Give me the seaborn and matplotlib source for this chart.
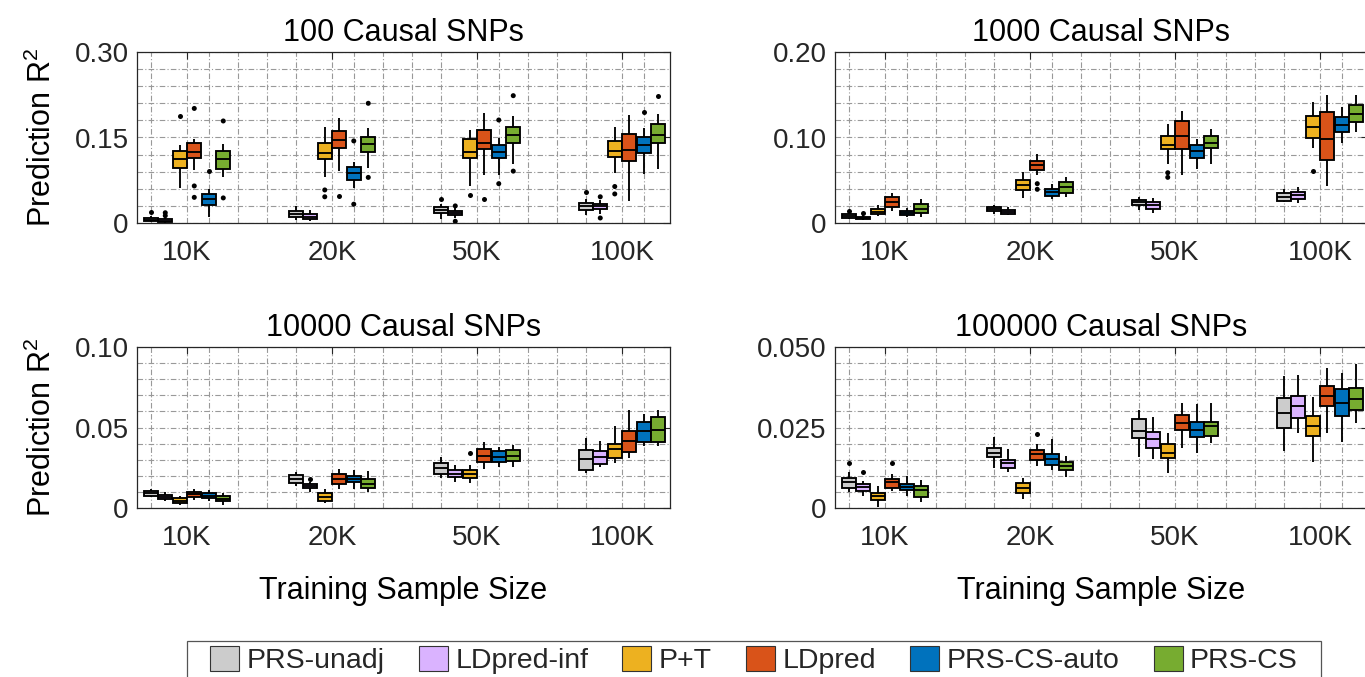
import numpy as np
import pandas as pd
import matplotlib
matplotlib.use("Agg")
import matplotlib.pyplot as plt
from matplotlib.patches import Patch, Rectangle
from matplotlib.ticker import FixedLocator, MultipleLocator
import seaborn as sns

sns.set_theme(style="white")
plt.rcParams["font.family"] = ["Liberation Sans", "DejaVu Sans"]
plt.rcParams["mathtext.default"] = "regular"

methods = ["PRS-unadj", "LDpred-inf", "P+T", "LDpred", "PRS-CS-auto", "PRS-CS"]
sizes = ["10K", "20K", "50K", "100K"]
colors = ["#CCCCCC", "#DAB3FF", "#EDB120", "#D95319", "#0072BD", "#77AC30"]
titles = ["100 Causal SNPs", "1000 Causal SNPs", "10000 Causal SNPs", "100000 Causal SNPs"]

# box statistics: (whisker low, Q1, median, Q3, whisker high); rows = methods, columns = sizes
snp100_boxes = [
    [(0.002, 0.0035, 0.006, 0.0093, 0.012), (0.005, 0.011, 0.0164, 0.021, 0.029), (0.007, 0.0175, 0.0228, 0.0286, 0.034), (0.014, 0.0228, 0.030, 0.0345, 0.042)],
    [(0.0005, 0.001, 0.004, 0.007, 0.009), (0.0035, 0.007, 0.011, 0.0152, 0.0228), (0.008, 0.0135, 0.0175, 0.021, 0.026), (0.015, 0.0246, 0.0298, 0.033, 0.040)],
    [(0.061, 0.096, 0.113, 0.127, 0.136), (0.081, 0.112, 0.122, 0.141, 0.169), (0.065, 0.1135, 0.1246, 0.147, 0.163), (0.088, 0.115, 0.126, 0.144, 0.168)],
    [(0.0936, 0.1146, 0.1246, 0.141, 0.147), (0.0906, 0.132, 0.145, 0.161, 0.185), (0.085, 0.129, 0.141, 0.163, 0.1936), (0.0386, 0.109, 0.128, 0.156, 0.190)],
    [(0.011, 0.032, 0.042, 0.051, 0.0596), (0.061, 0.076, 0.087, 0.099, 0.1076), (0.085, 0.1135, 0.124, 0.137, 0.1497), (0.0865, 0.122, 0.136, 0.150, 0.166)],
    [(0.081, 0.095, 0.112, 0.126, 0.138), (0.0965, 0.124, 0.138, 0.150, 0.166), (0.103, 0.140, 0.154, 0.168, 0.188), (0.0947, 0.140, 0.154, 0.1737, 0.1907)],
]
snp100_outliers = [
    ("10K", "PRS-unadj", 0.019), ("10K", "LDpred-inf", 0.0128), ("10K", "LDpred-inf", 0.018),
    ("10K", "P+T", 0.188), ("10K", "LDpred", 0.201), ("10K", "LDpred", 0.065), ("10K", "LDpred", 0.045),
    ("10K", "PRS-CS-auto", 0.091), ("10K", "PRS-CS", 0.179), ("10K", "PRS-CS", 0.044),
    ("20K", "P+T", 0.058), ("20K", "P+T", 0.046), ("20K", "LDpred", 0.047),
    ("20K", "PRS-CS-auto", 0.144), ("20K", "PRS-CS-auto", 0.033), ("20K", "PRS-CS", 0.210), ("20K", "PRS-CS", 0.080),
    ("50K", "PRS-unadj", 0.0426), ("50K", "LDpred-inf", 0.030), ("50K", "LDpred-inf", 0.003),
    ("50K", "P+T", 0.049), ("50K", "LDpred", 0.042), ("50K", "PRS-CS-auto", 0.1807), ("50K", "PRS-CS-auto", 0.069),
    ("50K", "PRS-CS", 0.2234), ("50K", "PRS-CS", 0.091),
    ("100K", "PRS-unadj", 0.054), ("100K", "LDpred-inf", 0.046), ("100K", "LDpred-inf", 0.0088),
    ("100K", "P+T", 0.064), ("100K", "P+T", 0.051), ("100K", "PRS-CS-auto", 0.1947), ("100K", "PRS-CS", 0.2234),
]

snp1000_boxes = [
    [(0.005, 0.0062, 0.0085, 0.0105, 0.012), (0.011, 0.0144, 0.0167, 0.019, 0.0207), (0.0152, 0.021, 0.0242, 0.0269, 0.0308), (0.0242, 0.0257, 0.0308, 0.0347, 0.0394)],
    [(0.003, 0.0043, 0.006, 0.0074, 0.009), (0.009, 0.0105, 0.0129, 0.0156, 0.019), (0.012, 0.016, 0.0207, 0.0242, 0.029), (0.023, 0.0281, 0.0324, 0.0359, 0.0425)],
    [(0.0082, 0.0102, 0.0132, 0.0167, 0.0207), (0.029, 0.0386, 0.0444, 0.0507, 0.0593), (0.069, 0.0862, 0.0916, 0.102, 0.1158), (0.088, 0.0994, 0.1123, 0.125, 0.141)],
    [(0.0144, 0.0184, 0.0242, 0.030, 0.0355), (0.056, 0.0624, 0.0675, 0.0722, 0.0807), (0.056, 0.0862, 0.102, 0.119, 0.131), (0.0433, 0.0737, 0.098, 0.130, 0.150)],
    [(0.0075, 0.009, 0.0117, 0.014, 0.0172), (0.0277, 0.032, 0.0363, 0.0398, 0.0456), (0.0628, 0.0756, 0.0838, 0.0912, 0.098), (0.094, 0.107, 0.1146, 0.1236, 0.136)],
    [(0.0074, 0.012, 0.0167, 0.0222, 0.0277), (0.0304, 0.0355, 0.042, 0.048, 0.054), (0.0686, 0.0873, 0.0936, 0.102, 0.1096), (0.107, 0.1178, 0.128, 0.138, 0.150)],
]
snp1000_outliers = [
    ("10K", "PRS-unadj", 0.0144), ("10K", "LDpred-inf", 0.0117),
    ("20K", "LDpred", 0.046), ("20K", "LDpred", 0.0394),
    ("50K", "P+T", 0.0588), ("50K", "P+T", 0.0534), ("100K", "P+T", 0.0608),
]

snp10000_boxes = [
    [(0.0066, 0.0077, 0.0091, 0.0106, 0.0118), (0.0139, 0.0157, 0.018, 0.0205, 0.0226), (0.0188, 0.0211, 0.025, 0.0281, 0.0315), (0.0217, 0.0236, 0.0304, 0.036, 0.0433)],
    [(0.0043, 0.0054, 0.0068, 0.0081, 0.010), (0.0101, 0.0124, 0.0139, 0.0151, 0.016), (0.0164, 0.019, 0.0213, 0.0236, 0.0267), (0.0253, 0.0275, 0.0315, 0.0354, 0.0416)],
    [(0.0016, 0.0029, 0.0043, 0.006, 0.0074), (0.0029, 0.0045, 0.0068, 0.0093, 0.0118), (0.0157, 0.0184, 0.0209, 0.0236, 0.0267), (0.0281, 0.0309, 0.0368, 0.0396, 0.0511)],
    [(0.0052, 0.0066, 0.0085, 0.0099, 0.0118), (0.012, 0.0147, 0.018, 0.0209, 0.024), (0.0244, 0.0284, 0.0323, 0.0366, 0.0412), (0.0313, 0.035, 0.0416, 0.0478, 0.0607)],
    [(0.0045, 0.006, 0.0077, 0.0091, 0.0112), (0.0118, 0.016, 0.018, 0.0199, 0.0235), (0.0255, 0.0284, 0.0319, 0.0352, 0.038), (0.0385, 0.041, 0.0478, 0.0536, 0.0582)],
    [(0.0016, 0.0041, 0.0058, 0.0075, 0.0096), (0.0097, 0.0122, 0.0149, 0.0178, 0.023), (0.0253, 0.029, 0.0325, 0.0358, 0.0392), (0.0385, 0.041, 0.0486, 0.0563, 0.061)],
]
snp10000_outliers = [("20K", "LDpred-inf", 0.0182), ("50K", "P+T", 0.0342)]

snp100000_boxes = [
    [(0.0051, 0.0063, 0.0081, 0.0094, 0.0111), (0.0125, 0.0157, 0.0171, 0.0185, 0.022), (0.0158, 0.0216, 0.024, 0.0276, 0.0304), (0.0177, 0.0248, 0.0296, 0.0341, 0.0411)],
    [(0.0038, 0.0052, 0.0064, 0.0075, 0.0084), (0.0111, 0.0125, 0.014, 0.015, 0.0182), (0.0153, 0.0187, 0.0213, 0.0237, 0.0283), (0.0234, 0.028, 0.0318, 0.0348, 0.0413)],
    [(0.0004, 0.0025, 0.0037, 0.0048, 0.0069), (0.0027, 0.0048, 0.0061, 0.0078, 0.0094), (0.0108, 0.0154, 0.0171, 0.0199, 0.0232), (0.0144, 0.0223, 0.0256, 0.0287, 0.0345)],
    [(0.0054, 0.0062, 0.008, 0.0089, 0.0105), (0.013, 0.0149, 0.0168, 0.018, 0.0198), (0.0187, 0.0242, 0.0263, 0.0289, 0.0326), (0.0234, 0.0318, 0.0348, 0.038, 0.0434)],
    [(0.0037, 0.0057, 0.0065, 0.0074, 0.0099), (0.0118, 0.0134, 0.0152, 0.0168, 0.0213), (0.017, 0.0222, 0.0243, 0.0266, 0.0322), (0.0204, 0.0286, 0.0325, 0.0369, 0.0418)],
    [(0.002, 0.0033, 0.0055, 0.0068, 0.0088), (0.0097, 0.0119, 0.013, 0.0142, 0.0162), (0.0203, 0.0225, 0.0255, 0.0268, 0.0326), (0.0263, 0.0304, 0.0338, 0.0372, 0.0446)],
]
snp100000_outliers = [
    ("10K", "PRS-unadj", 0.0141), ("10K", "LDpred-inf", 0.0113), ("10K", "LDpred", 0.0141), ("20K", "LDpred", 0.0229),
]

yticks = [[0, 0.15, 0.30], [0, 0.10, 0.20], [0, 0.05, 0.10], [0, 0.025, 0.050]]
ytick_labels = [["0", "0.15", "0.30"], ["0", "0.10", "0.20"], ["0", "0.05", "0.10"], ["0", "0.025", "0.050"]]
yminor_step = [0.03, 0.02, 0.01, 0.005]

panels = [
    (snp100_boxes, snp100_outliers),
    (snp1000_boxes, snp1000_outliers),
    (snp10000_boxes, snp10000_outliers),
    (snp100000_boxes, snp100000_outliers),
]


def box_frame(boxes):
    rows = []
    for m, row in zip(methods, boxes):
        for s, stats in zip(sizes, row):
            for v in stats:
                rows.append((s, m, v))
    return pd.DataFrame(rows, columns=["size", "method", "r2"])


def outlier_frame(outs):
    return pd.DataFrame(outs, columns=["size", "method", "r2"])


palette = dict(zip(methods, colors))
strip_order = ["_padL"] + methods + ["_padR"]
strip_pal = {k: "black" for k in strip_order}

fig = plt.figure(figsize=(13.65, 6.77), dpi=100)
W = 533 / 1365
axes_rects = [
    [137 / 1365, 1 - 223 / 677, W, 171 / 677],
    [835 / 1365, 1 - 223 / 677, W, 171 / 677],
    [137 / 1365, 1 - 508 / 677, W, 161 / 677],
    [835 / 1365, 1 - 508 / 677, W, 161 / 677],
]

grid_kw = dict(color="#999999", linestyle=(0, (5, 2, 1, 2)), linewidth=0.8)
xminor = [p for p in np.arange(-0.25, 3.4, 0.2) if min(abs(p - k) for k in range(4)) > 0.08]

for i, (rect, (boxes, outs)) in enumerate(zip(axes_rects, panels)):
    ax = fig.add_axes(rect)
    sns.boxplot(data=box_frame(boxes), x="size", y="r2", hue="method", order=sizes,
                hue_order=methods, palette=palette, width=0.6, gap=0.04, whis=(0, 100),
                showfliers=False, showcaps=False, saturation=1, linewidth=1.35,
                linecolor="black", legend=False, ax=ax)
    sns.stripplot(data=outlier_frame(outs), x="size", y="r2", hue="method", order=sizes,
                  hue_order=strip_order, palette=strip_pal, dodge=True, jitter=False,
                  size=3.6, linewidth=0, legend=False, ax=ax, zorder=5)
    ax.set_xlim(-0.345, 3.331)
    ax.set_ylim(yticks[i][0], yticks[i][-1])
    ax.set_yticks(yticks[i])
    ax.set_yticklabels(ytick_labels[i])
    ax.yaxis.set_minor_locator(MultipleLocator(yminor_step[i]))
    ax.xaxis.set_minor_locator(FixedLocator(xminor))
    ax.set_axisbelow(True)
    ax.grid(True, which="both", **grid_kw)
    ax.tick_params(which="major", direction="in", length=5, width=0.8, top=True, right=True,
                   labelsize=20, colors="#262626")
    ax.tick_params(axis="x", which="major", pad=12)
    ax.tick_params(axis="y", which="major", pad=6)
    ax.tick_params(which="minor", length=0)
    for sp in ax.spines.values():
        sp.set_color("#262626")
        sp.set_linewidth(0.9)
        sp.set_visible(True)
    ax.set_title(titles[i], fontsize=22, pad=8, color="black")
    ax.set_xlabel("Training Sample Size" if i >= 2 else "", fontsize=22, labelpad=18, color="black")
    ax.set_ylabel("Prediction R$^2$" if i % 2 == 0 else "", fontsize=22, labelpad=12, color="black")

handles = [Patch(facecolor=c, edgecolor="#333333", linewidth=0.8, label=m) for m, c in zip(methods, colors)]
leg = fig.legend(handles=handles, loc="center", bbox_to_anchor=(754 / 1365, 1 - 660 / 677), ncol=6,
                 fontsize=20.5, handlelength=1.02, handleheight=0.95, handletextpad=0.26,
                 columnspacing=1.2, frameon=False, borderpad=0, borderaxespad=0)

fig.canvas.draw()
bb = leg.get_window_extent().transformed(fig.transFigure.inverted())
padx = 23 / 1365
top = 1 - 641 / 677
fig.add_artist(Rectangle((bb.x0 - padx, -0.05), bb.width + 2 * padx, top + 0.05,
                         transform=fig.transFigure, facecolor="white", edgecolor="#555555",
                         linewidth=0.9, zorder=0))

fig.savefig("out.png", dpi=100)
